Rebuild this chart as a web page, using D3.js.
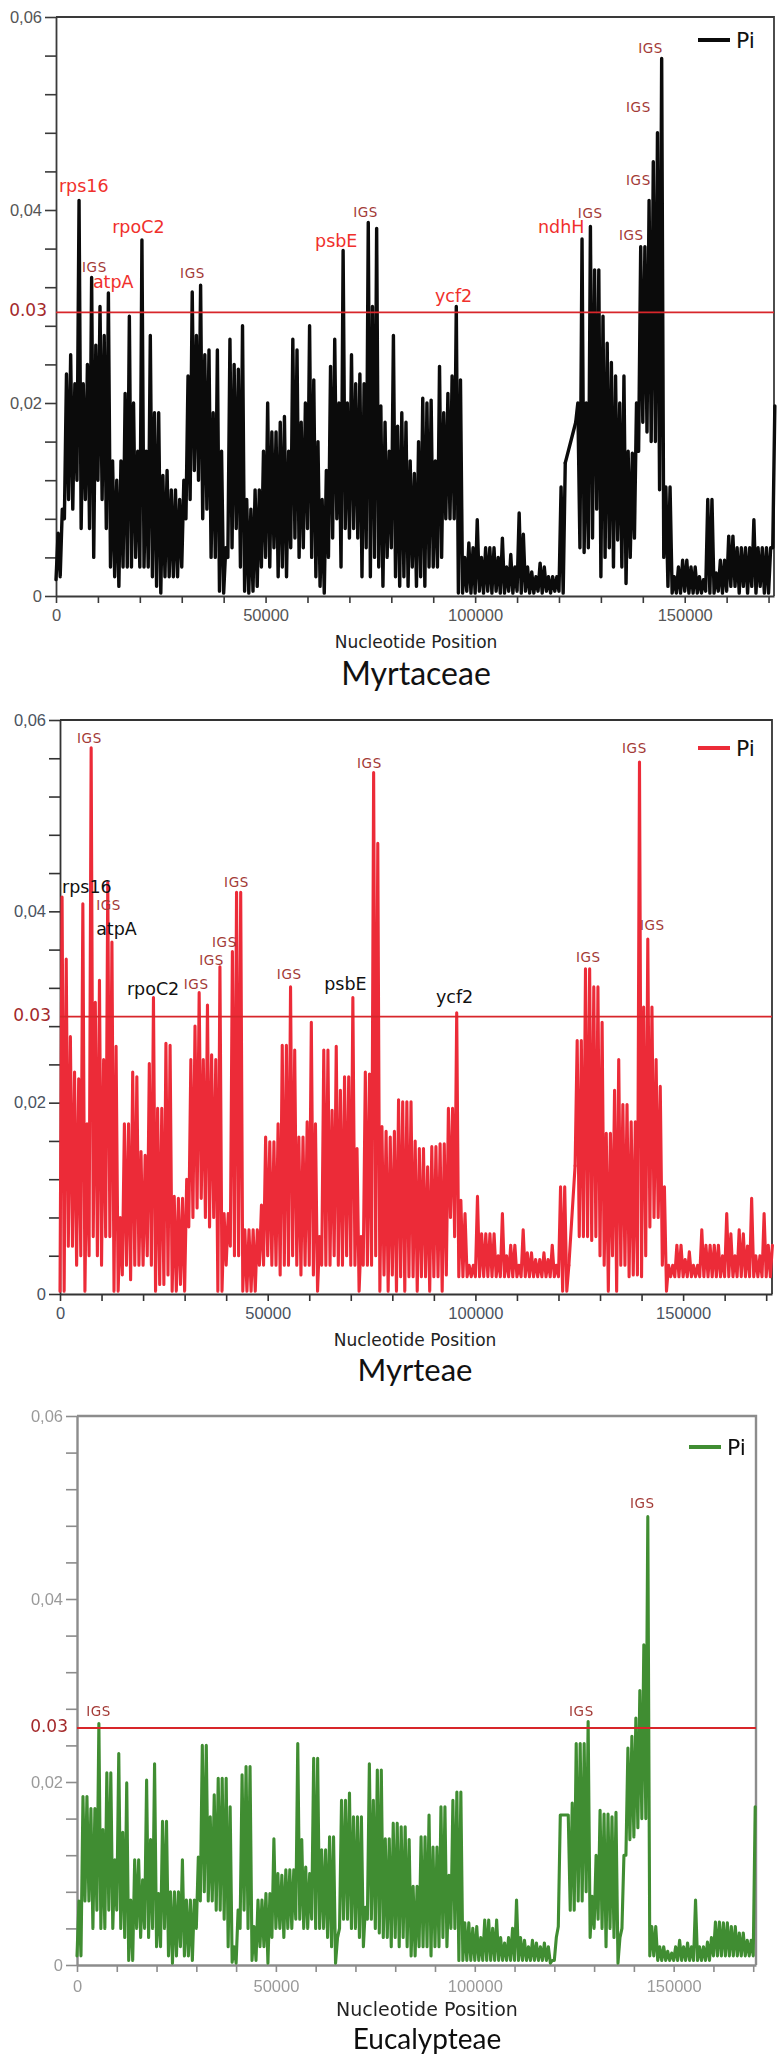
<!DOCTYPE html>
<html>
<head>
<meta charset="utf-8">
<script src="https://cdn.jsdelivr.net/npm/d3@7"></script>
<style>
    body { margin: 0; background: #fff; }
    svg { display: block; }
</style>
</head>
<body>
<svg id="chart" width="780" height="2058"></svg>
<script>
// windows are summarised per 1000 bp bin: highest and lowest Pi in the bin
// null = no window in that bin (the line is bridged straight over it)
var binBp = 1000;

var myrtaceaeMax = [
    0.0065, 0.009, 0.023, 0.025, 0.022, 0.041, 0.022, 0.024, 0.033, 0.026,
    0.030, 0.027, 0.0314, 0.014, 0.012, 0.014, 0.021, 0.029, 0.020, 0.015,
    0.0369, 0.015, 0.027, 0.019, 0.019, 0.0125, 0.013, 0.011, 0.011, 0.010,
    0.012, 0.0228, 0.0315, 0.027, 0.0322, 0.025, 0.0255, 0.019, 0.0255, 0.015,
    0.005, 0.0266, 0.024, 0.0235, 0.028, 0.010, 0.009, 0.011, 0.011, 0.015,
    0.020, 0.017, 0.017, 0.018, 0.0186, 0.015, 0.0266, 0.0255, 0.018, 0.020,
    0.028, 0.0224, 0.016, 0.010, 0.013, 0.0238, 0.0266, 0.020, 0.0358, 0.020,
    0.025, 0.022, 0.023, 0.022, 0.0387, 0.030, 0.0381, 0.0197, 0.018, 0.015,
    0.027, 0.0176, 0.019, 0.018, 0.014, 0.0127, 0.016, 0.0205, 0.020, 0.0203,
    0.014, 0.0238, 0.019, 0.021, 0.0228, 0.030, 0.0224, 0.004, 0.0055, 0.005,
    0.0079, 0.004, 0.005, 0.005, 0.005, 0.004, 0.006, 0.003, 0.0043, 0.003,
    0.0086, 0.0064, 0.003, 0.0025, 0.002, 0.0034, 0.003, 0.002, 0.002, 0.002,
    0.0113, 0.0138, null, null, 0.020, 0.037, 0.020, 0.0383, 0.0338, 0.0338,
    0.029, 0.0262, 0.0242, 0.0228, 0.020, 0.0228, 0.015, 0.0148, 0.020, 0.0362,
    0.0362, 0.041, 0.045, 0.048, 0.0557, 0.0113, 0.0113, 0.002, 0.003, 0.0037,
    0.0037, 0.003, 0.003, 0.002, 0.0017, 0.010, 0.010, 0.0024, 0.0037, 0.0037,
    0.0062, 0.0062, 0.005, 0.005, 0.005, 0.005, 0.0079, 0.005, 0.005, 0.005,
    0.005, 0.0197
];
var myrtaceaeMin = [
    0.0017, 0.002, 0.008, 0.010, 0.009, 0.012, 0.007, 0.010, 0.007, 0.004,
    0.012, 0.010, 0.007, 0.003, 0.002, 0.001, 0.003, 0.003, 0.003, 0.004,
    0.003, 0.003, 0.003, 0.002, 0.001, 0.0003, 0.002, 0.002, 0.002, 0.002,
    0.003, 0.008, 0.010, 0.013, 0.012, 0.008, 0.009, 0.004, 0.004, 0.0005,
    0.0003, 0.004, 0.005, 0.007, 0.003, 0.0005, 0.0003, 0.0005, 0.001, 0.003,
    0.004, 0.003, 0.005, 0.002, 0.003, 0.002, 0.005, 0.006, 0.004, 0.005,
    0.007, 0.004, 0.002, 0.001, 0.0003, 0.004, 0.006, 0.008, 0.003, 0.007,
    0.006, 0.007, 0.006, 0.002, 0.005, 0.002, 0.004, 0.003, 0.001, 0.004,
    0.005, 0.002, 0.001, 0.002, 0.001, 0.003, 0.001, 0.002, 0.001, 0.003,
    0.003, 0.003, 0.004, 0.008, 0.008, 0.008, 0.0003, 0.0003, 0.0005, 0.0003,
    0.0003, 0.0005, 0.0003, 0.0005, 0.0003, 0.0005, 0.0003, 0.0003, 0.0005, 0.0003,
    0.0005, 0.0003, 0.0005, 0.0003, 0.0003, 0.0005, 0.0003, 0.0005, 0.0003, 0.0005,
    0.0005, 0.0003, null, null, 0.018, 0.005, 0.0045, 0.005, 0.006, 0.009,
    0.002, 0.004, 0.005, 0.003, 0.0058, 0.003, 0.0013, 0.004, 0.006, 0.015,
    0.018, 0.017, 0.016, 0.016, 0.011, 0.004, 0.001, 0.0003, 0.0003, 0.0003,
    0.0005, 0.0003, 0.0003, 0.0003, 0.0003, 0.0005, 0.0003, 0.0003, 0.0005, 0.0003,
    0.0005, 0.001, 0.001, 0.0003, 0.001, 0.0003, 0.001, 0.0003, 0.001, 0.0003,
    0.0003, 0.005
];

var myrteaeMax = [
    0.0415, 0.035, 0.0269, 0.0232, 0.0225, 0.0408, 0.0178, 0.0571, 0.0305, 0.0328,
    0.0245, 0.043, 0.0368, 0.0259, 0.008, 0.0178, 0.0178, 0.0232, 0.0227, 0.0149,
    0.0145, 0.0241, 0.031, 0.0194, 0.0194, 0.0262, 0.026, 0.0102, 0.010, 0.010,
    0.012, 0.0245, 0.028, 0.0315, 0.0245, 0.0302, 0.025, 0.0245, 0.0342, 0.0084,
    0.0084, 0.0358, 0.042, 0.042, 0.0067, 0.0067, 0.0067, 0.0067, 0.0093, 0.0164,
    0.0159, 0.0159, 0.0178, 0.026, 0.026, 0.0321, 0.0255, 0.0164, 0.0164, 0.018,
    0.0284, 0.0178, 0.006, 0.0255, 0.0255, 0.0192, 0.0259, 0.0213, 0.0227, 0.0227,
    0.031, 0.0152, 0.006, 0.0232, 0.023, 0.0545, 0.0471, 0.0175, 0.017, 0.0164,
    0.017, 0.0203, 0.0201, 0.0201, 0.0201, 0.016, 0.0152, 0.0152, 0.0133, 0.0154,
    0.0154, 0.0157, 0.0157, 0.0194, 0.0194, 0.0294, 0.0098, 0.0084, 0.003, 0.003,
    0.0102, 0.0063, 0.0063, 0.0063, 0.0063, 0.004, 0.0084, 0.004, 0.0051, 0.0051,
    0.003, 0.0067, 0.0043, 0.0043, 0.0036, 0.0036, 0.0043, 0.0036, 0.0051, 0.003,
    0.0112, 0.0112, 0.003, null, 0.0265, 0.0265, 0.034, 0.034, 0.0321, 0.0321,
    0.0284, 0.0168, 0.0168, 0.0213, 0.0245, 0.0198, 0.0198, 0.018, 0.018, 0.0556,
    0.030, 0.0371, 0.030, 0.0245, 0.0217, 0.0112, 0.003, 0.003, 0.0051, 0.0051,
    0.0036, 0.0044, 0.003, 0.003, 0.0067, 0.0051, 0.0051, 0.0051, 0.0051, 0.004,
    0.0084, 0.0063, 0.004, 0.0067, 0.0063, 0.005, 0.010, 0.004, 0.004, 0.0084,
    0.0051, 0.0051
];
var myrteaeMin = [
    0.0003, 0.0003, 0.005, 0.005, 0.003, 0.004, 0.0003, 0.004, 0.006, 0.004,
    0.003, 0.006, 0.006, 0.0003, 0.0003, 0.002, 0.003, 0.0015, 0.003, 0.003,
    0.003, 0.004, 0.003, 0.0003, 0.001, 0.001, 0.002, 0.0003, 0.0003, 0.001,
    0.0003, 0.007, 0.008, 0.009, 0.010, 0.008, 0.007, 0.008, 0.0003, 0.0003,
    0.003, 0.005, 0.004, 0.004, 0.0003, 0.0003, 0.0003, 0.0003, 0.003, 0.003,
    0.004, 0.003, 0.003, 0.002, 0.003, 0.003, 0.004, 0.003, 0.002, 0.003,
    0.003, 0.002, 0.0003, 0.003, 0.003, 0.003, 0.004, 0.003, 0.003, 0.004,
    0.003, 0.003, 0.0003, 0.003, 0.003, 0.003, 0.004, 0.0003, 0.002, 0.0003,
    0.002, 0.0003, 0.0018, 0.0003, 0.0018, 0.0018, 0.0003, 0.0018, 0.0018, 0.0003,
    0.0018, 0.0018, 0.0003, 0.002, 0.008, 0.006, 0.0018, 0.0018, 0.0018, 0.0018,
    0.0018, 0.0018, 0.0018, 0.0018, 0.0018, 0.0018, 0.0018, 0.0018, 0.0018, 0.0018,
    0.0018, 0.0018, 0.0018, 0.0018, 0.0018, 0.0018, 0.0018, 0.0018, 0.0018, 0.0018,
    0.0018, 0.0003, 0.0003, null, 0.0134, 0.006, 0.006, 0.006, 0.0056, 0.006,
    0.004, 0.003, 0.0003, 0.004, 0.0003, 0.003, 0.003, 0.0018, 0.002, 0.002,
    0.0018, 0.004, 0.007, 0.008, 0.008, 0.003, 0.0003, 0.0018, 0.0018, 0.0018,
    0.0018, 0.0018, 0.0018, 0.0018, 0.0018, 0.0018, 0.0018, 0.0018, 0.0018, 0.0018,
    0.0018, 0.0018, 0.0018, 0.0018, 0.0018, 0.0018, 0.0018, 0.0018, 0.0018, 0.0018,
    0.0018, 0.0018
];

var eucalypteaeMax = [
    0.007, 0.0184, 0.0184, 0.0171, 0.0171, 0.0264, 0.0148, 0.021, 0.021, 0.0115,
    0.0231, 0.0145, 0.0199, 0.0071, 0.0115, 0.0115, 0.0093, 0.0202, 0.0137, 0.022,
    0.0078, 0.0157, 0.0157, 0.008, 0.008, 0.008, 0.0115, 0.0071, 0.0071, 0.0071,
    0.0118, 0.024, 0.024, 0.0162, 0.0186, 0.0204, 0.0204, 0.0204, 0.0173, 0.002,
    0.006, 0.0208, 0.0217, 0.0217, 0.0042, 0.0071, 0.0071, 0.0078, 0.0078, 0.0138,
    0.010, 0.0098, 0.0104, 0.0104, 0.0104, 0.0242, 0.0137, 0.0107, 0.010, 0.0226,
    0.0226, 0.0126, 0.0126, 0.014, 0.014, 0.003, 0.018, 0.018, 0.0188, 0.0162,
    0.0162, 0.0162, 0.0063, 0.022, 0.018, 0.0213, 0.0213, 0.0138, 0.0138, 0.0155,
    0.0155, 0.0151, 0.0151, 0.0137, 0.0086, 0.0086, 0.014, 0.014, 0.0164, 0.0129,
    0.0129, 0.0173, 0.0173, 0.0098, 0.018, 0.0189, 0.0189, 0.0046, 0.0046, 0.004,
    0.0042, 0.003, 0.0049, 0.0049, 0.004, 0.0049, 0.003, 0.0024, 0.003, 0.004,
    0.0071, 0.003, 0.0027, 0.002, 0.0027, 0.0024, 0.002, 0.0024, 0.002, 0.0005,
    0.003, 0.0164, 0.0164, 0.0164, 0.0177, 0.0242, 0.0242, 0.0242, 0.0266, 0.0075,
    0.012, 0.0169, 0.0165, 0.0165, 0.0162, 0.0167, 0.003, 0.012, 0.0237, 0.025,
    0.027, 0.030, 0.035, 0.049, 0.0042, 0.0042, 0.002, 0.002, 0.0015, 0.0013,
    0.002, 0.0027, 0.002, 0.0024, 0.002, 0.0071, 0.002, 0.002, 0.0025, 0.003,
    0.0047, 0.0047, 0.0046, 0.0046, 0.0042, 0.0042, 0.0035, 0.0035, 0.0027, 0.0027,
    0.0173
];
var eucalypteaeMin = [
    0.001, 0.001, 0.007, 0.007, 0.004, 0.006, 0.004, 0.004, 0.006, 0.004,
    0.006, 0.004, 0.003, 0.0005, 0.0005, 0.004, 0.003, 0.004, 0.003, 0.004,
    0.002, 0.002, 0.004, 0.001, 0.0002, 0.001, 0.002, 0.001, 0.001, 0.0005,
    0.004, 0.007, 0.008, 0.007, 0.007, 0.006, 0.006, 0.005, 0.002, 0.0003,
    0.0002, 0.004, 0.006, 0.004, 0.0005, 0.0005, 0.002, 0.002, 0.0002, 0.003,
    0.004, 0.004, 0.003, 0.004, 0.004, 0.005, 0.005, 0.004, 0.004, 0.005,
    0.004, 0.004, 0.004, 0.003, 0.002, 0.0002, 0.004, 0.005, 0.005, 0.004,
    0.004, 0.003, 0.002, 0.005, 0.005, 0.004, 0.0035, 0.003, 0.003, 0.002,
    0.003, 0.002, 0.003, 0.002, 0.001, 0.001, 0.002, 0.002, 0.002, 0.001,
    0.002, 0.002, 0.003, 0.002, 0.004, 0.004, 0.0005, 0.0005, 0.0005, 0.0005,
    0.0005, 0.0005, 0.0005, 0.0005, 0.0005, 0.0005, 0.0005, 0.0005, 0.0005, 0.0005,
    0.0005, 0.0005, 0.0005, 0.0005, 0.0005, 0.0005, 0.0005, 0.0005, 0.0005, 0.0002,
    0.0005, 0.0042, 0.0164, 0.0164, 0.006, 0.006, 0.007, 0.007, 0.008, 0.003,
    0.004, 0.005, 0.004, 0.002, 0.004, 0.003, 0.0002, 0.004, 0.012, 0.0137,
    0.014, 0.015, 0.016, 0.016, 0.001, 0.001, 0.0005, 0.0005, 0.0005, 0.0005,
    0.0005, 0.0005, 0.0005, 0.0005, 0.0005, 0.0005, 0.0005, 0.0005, 0.0005, 0.0005,
    0.001, 0.001, 0.001, 0.001, 0.001, 0.001, 0.001, 0.001, 0.001, 0.001,
    0.001
];

// annotation text: [text, position (bp), Pi at text baseline, kind]
var myrtaceaeLabels = [
    ["rps16", 700, 0.0419, "gene"],
    ["IGS", 6200, 0.0336, "igs"],
    ["atpA", 8800, 0.0319, "gene"],
    ["rpoC2", 13400, 0.0376, "gene"],
    ["IGS", 29600, 0.0330, "igs"],
    ["psbE", 61800, 0.0362, "gene"],
    ["IGS", 70900, 0.0393, "igs"],
    ["ycf2", 90400, 0.0305, "gene"],
    ["ndhH", 115000, 0.0376, "gene"],
    ["IGS", 124500, 0.0392, "igs"],
    ["IGS", 134300, 0.0369, "igs"],
    ["IGS", 136000, 0.0426, "igs"],
    ["IGS", 136000, 0.0502, "igs"],
    ["IGS", 138900, 0.0563, "igs"]
];
var myrteaeLabels = [
    ["IGS", 4100, 0.0576, "igs"],
    ["rps16", 500, 0.0419, "gene"],
    ["IGS", 8700, 0.0401, "igs"],
    ["atpA", 8700, 0.0375, "gene"],
    ["rpoC2", 16100, 0.0313, "gene"],
    ["IGS", 29800, 0.0319, "igs"],
    ["IGS", 33500, 0.0344, "igs"],
    ["IGS", 36600, 0.0363, "igs"],
    ["IGS", 39500, 0.0425, "igs"],
    ["IGS", 52200, 0.0329, "igs"],
    ["psbE", 63600, 0.0318, "gene"],
    ["IGS", 71500, 0.0550, "igs"],
    ["ycf2", 90500, 0.0304, "gene"],
    ["IGS", 124200, 0.0347, "igs"],
    ["IGS", 135300, 0.0565, "igs"],
    ["IGS", 139600, 0.0380, "igs"]
];
var eucalypteaeLabels = [
    ["IGS", 2300, 0.0272, "igs"],
    ["IGS", 123700, 0.0272, "igs"],
    ["IGS", 139000, 0.0499, "igs"]
];

// cut-off line drawn in each panel (labelled 0.03)
var cutoffPi = [0.0294, 0.029, 0.0259];
var cutoffText = "0.03";
var genomeLength = [171300, 171400, 170700];
var xTickValues = d3.range(0, 170001, 10000);
var xTickLabels = [0, 50000, 100000, 150000];
var yTickValues = d3.range(16).map(function (i) { return i * 0.004; });
var yTickLabels = ["0", "0,02", "0,04", "0,06"];
var titles = ["Myrtaceae", "Myrteae", "Eucalypteae"];
var xAxisTitle = "Nucleotide Position";
var legendText = "Pi";

var svg = d3.select("#chart");
svg.append("defs").append("filter").attr("id", "soft")
    .append("feGaussianBlur").attr("stdDeviation", 0.55);

var panels = [
    {hi: myrtaceaeMax, lo: myrtaceaeMin, labels: myrtaceaeLabels, title: titles[0], len: genomeLength[0], cut: cutoffPi[0],
        left: 56, right: 774, top: 17, bottom: 596,
        line: "#0b0b0b", lineW: 3.4, frame: "#3a3a3a", frameW: 1.8, tickText: "#555", geneColor: "#f0302c",
        xPad: 6, titleX: 416, axisTitleY: 648, axisTitleSize: 17, titleY: 685, titleSize: 32,
        legX: 698, legY: 40, blur: false},
    {hi: myrteaeMax, lo: myrteaeMin, labels: myrteaeLabels, title: titles[1], len: genomeLength[1], cut: cutoffPi[1],
        left: 60, right: 772, top: 720, bottom: 1294,
        line: "#ec2b38", lineW: 3.1, frame: "#333", frameW: 1.8, tickText: "#4a5260", geneColor: "#111",
        xPad: 6.5, titleX: 415, axisTitleY: 1346, axisTitleSize: 17, titleY: 1381, titleSize: 31,
        legX: 698, legY: 748, blur: false},
    {hi: eucalypteaeMax, lo: eucalypteaeMin, labels: eucalypteaeLabels, title: titles[2], len: genomeLength[2], cut: cutoffPi[2],
        left: 77, right: 756, top: 1416, bottom: 1965,
        line: "#3f8d30", lineW: 3.1, frame: "#8c8c8c", frameW: 2.4, tickText: "#9a9a9a", geneColor: "#111",
        xPad: 8, titleX: 427, axisTitleY: 2016, axisTitleSize: 19, titleY: 2049, titleSize: 28,
        legX: 689, legY: 1447, blur: true}
];

panels.forEach(drawPanel);

function drawPanel(p) {
    var g = svg.append("g");
    if (p.blur) g.attr("filter", "url(#soft)");

    var x = d3.scaleLinear().domain([0, p.len]).range([p.left, p.right]);
    var y = d3.scaleLinear().domain([0, 0.06]).range([p.bottom, p.top]);

    // top + right frame
    g.append("path")
        .attr("d", "M" + p.left + "," + p.top + "H" + p.right + "V" + p.bottom)
        .attr("fill", "none")
        .attr("stroke", p.frame)
        .attr("stroke-width", p.frameW);

    var yAxis = g.append("g")
        .attr("transform", "translate(" + p.left + ",0)")
        .call(d3.axisLeft(y)
            .tickValues(yTickValues)
            .tickSize(11)
            .tickSizeOuter(0)
            .tickPadding(3)
            .tickFormat(function (d, i) { return i % 5 === 0 ? yTickLabels[i / 5] : ""; }));

    var xAxis = g.append("g")
        .attr("transform", "translate(0," + p.bottom + ")")
        .call(d3.axisBottom(x)
            .tickValues(xTickValues)
            .tickSize(7)
            .tickSizeOuter(0)
            .tickPadding(p.xPad)
            .tickFormat(function (d) { return xTickLabels.indexOf(d) >= 0 ? d : ""; }));

    [yAxis, xAxis].forEach(function (a) {
        a.select(".domain").attr("stroke", p.frame).attr("stroke-width", p.frameW);
        a.selectAll(".tick line").attr("stroke", p.frame).attr("stroke-width", 1.6);
        a.selectAll(".tick text")
            .attr("fill", p.tickText)
            .style("font-family", "'Liberation Sans', Arial, sans-serif")
            .style("font-size", "16.5px");
    });

    // Pi trace: in every bin the line drops to the bin's low and climbs to its high
    var runs = [], cur = [];
    p.hi.forEach(function (hi, i) {
        if (hi === null) {
            if (cur.length) runs.push(cur);
            cur = [];
        } else {
            cur.push([i * binBp, p.lo[i]]);
            cur.push([i * binBp + binBp / 2, hi]);
        }
    });
    if (cur.length) runs.push(cur);

    var line = d3.line()
        .x(function (d) { return x(d[0]); })
        .y(function (d) { return y(d[1]); });

    var lineG = g.append("g")
        .attr("fill", "none")
        .attr("stroke", p.line)
        .attr("stroke-width", p.lineW)
        .attr("stroke-linejoin", "round")
        .attr("stroke-linecap", "round");
    lineG.selectAll("path.run")
        .data(runs)
        .enter().append("path")
        .attr("class", "run")
        .attr("d", line);
    // missing bins: straight bridge
    for (var r = 1; r < runs.length; r++) {
        lineG.append("path")
            .attr("d", line([runs[r - 1][runs[r - 1].length - 1], runs[r][0]]));
    }

    // cut-off line
    g.append("line")
        .attr("x1", p.left).attr("x2", p.right)
        .attr("y1", y(p.cut)).attr("y2", y(p.cut))
        .attr("stroke", "#d8262b")
        .attr("stroke-width", 1.8);
    g.append("text")
        .attr("x", p.left - 9)
        .attr("y", y(p.cut) + 4)
        .attr("text-anchor", "end")
        .attr("fill", "#a4292b")
        .style("font-family", "'DejaVu Sans', Verdana, sans-serif")
        .style("font-size", "17px")
        .text(cutoffText);

    // peak annotations
    g.selectAll("text.peak")
        .data(p.labels)
        .enter().append("text")
        .attr("class", "peak")
        .attr("x", function (d) { return x(d[1]); })
        .attr("y", function (d) { return y(d[2]); })
        .attr("fill", function (d) { return d[3] === "igs" ? "#a33a36" : p.geneColor; })
        .style("font-family", "'DejaVu Sans', Verdana, sans-serif")
        .style("font-size", function (d) { return d[3] === "igs" ? "13.5px" : "17.5px"; })
        .style("letter-spacing", function (d) { return d[3] === "igs" ? "0.6px" : "0px"; })
        .text(function (d) { return d[0]; });

    // legend
    g.append("line")
        .attr("x1", p.legX).attr("x2", p.legX + 32)
        .attr("y1", p.legY).attr("y2", p.legY)
        .attr("stroke", p.line)
        .attr("stroke-width", 4);
    g.append("text")
        .attr("x", p.legX + 38)
        .attr("y", p.legY + 8)
        .attr("fill", "#111")
        .style("font-family", "'DejaVu Sans', Verdana, sans-serif")
        .style("font-size", "22px")
        .text(legendText);

    // axis title + group name
    g.append("text")
        .attr("x", p.titleX)
        .attr("y", p.axisTitleY)
        .attr("text-anchor", "middle")
        .attr("fill", "#222")
        .style("font-family", "'DejaVu Sans', Verdana, sans-serif")
        .style("font-size", p.axisTitleSize + "px")
        .text(xAxisTitle);
    g.append("text")
        .attr("x", p.titleX)
        .attr("y", p.titleY)
        .attr("text-anchor", "middle")
        .attr("fill", "#111")
        .style("font-family", "Lato, sans-serif")
        .style("font-size", p.titleSize + "px")
        .text(p.title);
}
</script>
</body>
</html>
